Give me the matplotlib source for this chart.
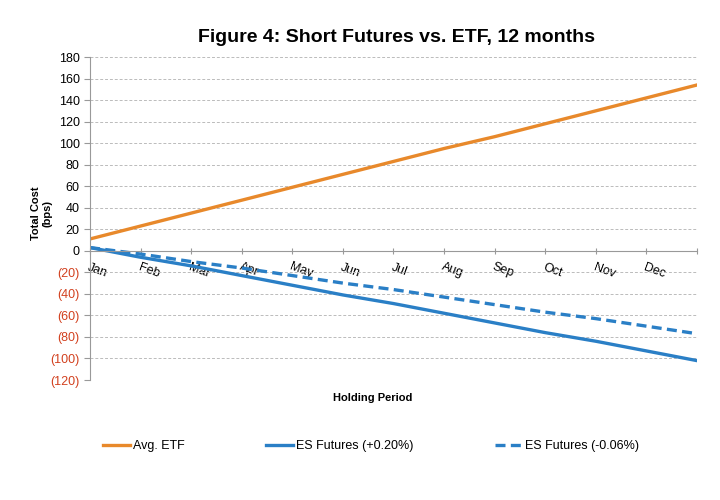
import matplotlib
matplotlib.use("Agg")
import matplotlib.pyplot as plt

# Data (value at start of each month + year end)
months = ["Jan", "Feb", "Mar", "Apr", "May", "Jun", "Jul", "Aug", "Sep", "Oct", "Nov", "Dec"]
etf = [11, 23, 35, 47, 59, 71, 83, 95, 106, 118, 130, 142, 154]
es_pos = [3, -6, -14, -23, -32, -41, -49, -58, -67, -76, -84, -93, -102]
es_neg = [3, -3, -10, -16, -23, -30, -36, -43, -50, -57, -63, -70, -77]

y_ticks = [-120, -100, -80, -60, -40, -20, 0, 20, 40, 60, 80, 100, 120, 140, 160, 180]
y_labels = ["(120)", "(100)", "(80)", "(60)", "(40)", "(20)", "0", "20", "40", "60",
            "80", "100", "120", "140", "160", "180"]

orange = "#E8892B"
blue = "#2A7FC6"
red = "#D2401E"

plt.rcParams["font.family"] = ["Liberation Sans", "DejaVu Sans"]

fig = plt.figure(figsize=(7.2, 5.0), dpi=100)
ax = fig.add_axes([0.125, 0.24, 0.843, 0.646])

x = list(range(len(etf)))
ax.plot(x, etf, color=orange, lw=2.4, label="Avg. ETF")
ax.plot(x, es_pos, color=blue, lw=2.4, label="ES Futures (+0.20%)")
ax.plot(x, es_neg, color=blue, lw=2.4, ls=(0, (3, 1.6)), label="ES Futures (-0.06%)")

ax.set_xlim(0, 12)
ax.set_ylim(-120, 180)

# gridlines
ax.set_yticks(y_ticks)
ax.set_yticklabels(y_labels, fontsize=9)
for lbl, v in zip(ax.get_yticklabels(), y_ticks):
    lbl.set_color(red if v < 0 else "black")
ax.yaxis.grid(True, color="#BBBBBB", ls=(0, (3, 2)), lw=0.7)
ax.set_axisbelow(True)

# category axis sits at zero
ax.spines["bottom"].set_position(("data", 0))
ax.spines["bottom"].set_color("#999999")
ax.spines["left"].set_color("#999999")
ax.spines["top"].set_visible(False)
ax.spines["right"].set_visible(False)
ax.set_xticks(range(13))
ax.set_xticklabels(months + [""], fontsize=9, rotation=-20, rotation_mode="anchor",
                   ha="left", va="top")
ax.tick_params(axis="x", direction="inout", length=5, color="#999999", pad=5)
ax.tick_params(axis="y", length=4, color="#999999")

fig.text(0.55, 0.925, "Figure 4: Short Futures vs. ETF, 12 months", ha="center",
         va="center", fontsize=14, fontweight="bold")
fig.text(0.058, 0.573, "Total Cost\n(bps)", ha="center", va="center", rotation=90,
         fontsize=8, fontweight="bold", linespacing=1.1)
fig.text(0.517, 0.204, "Holding Period", ha="center", va="center",
         fontsize=8, fontweight="bold")

fig.legend(loc="center", bbox_to_anchor=(0.515, 0.107), ncol=3, frameon=False,
           handlelength=2.2, handletextpad=0.2, columnspacing=6.5,
           prop={"size": 9})

fig.savefig("out.png", dpi=100)
